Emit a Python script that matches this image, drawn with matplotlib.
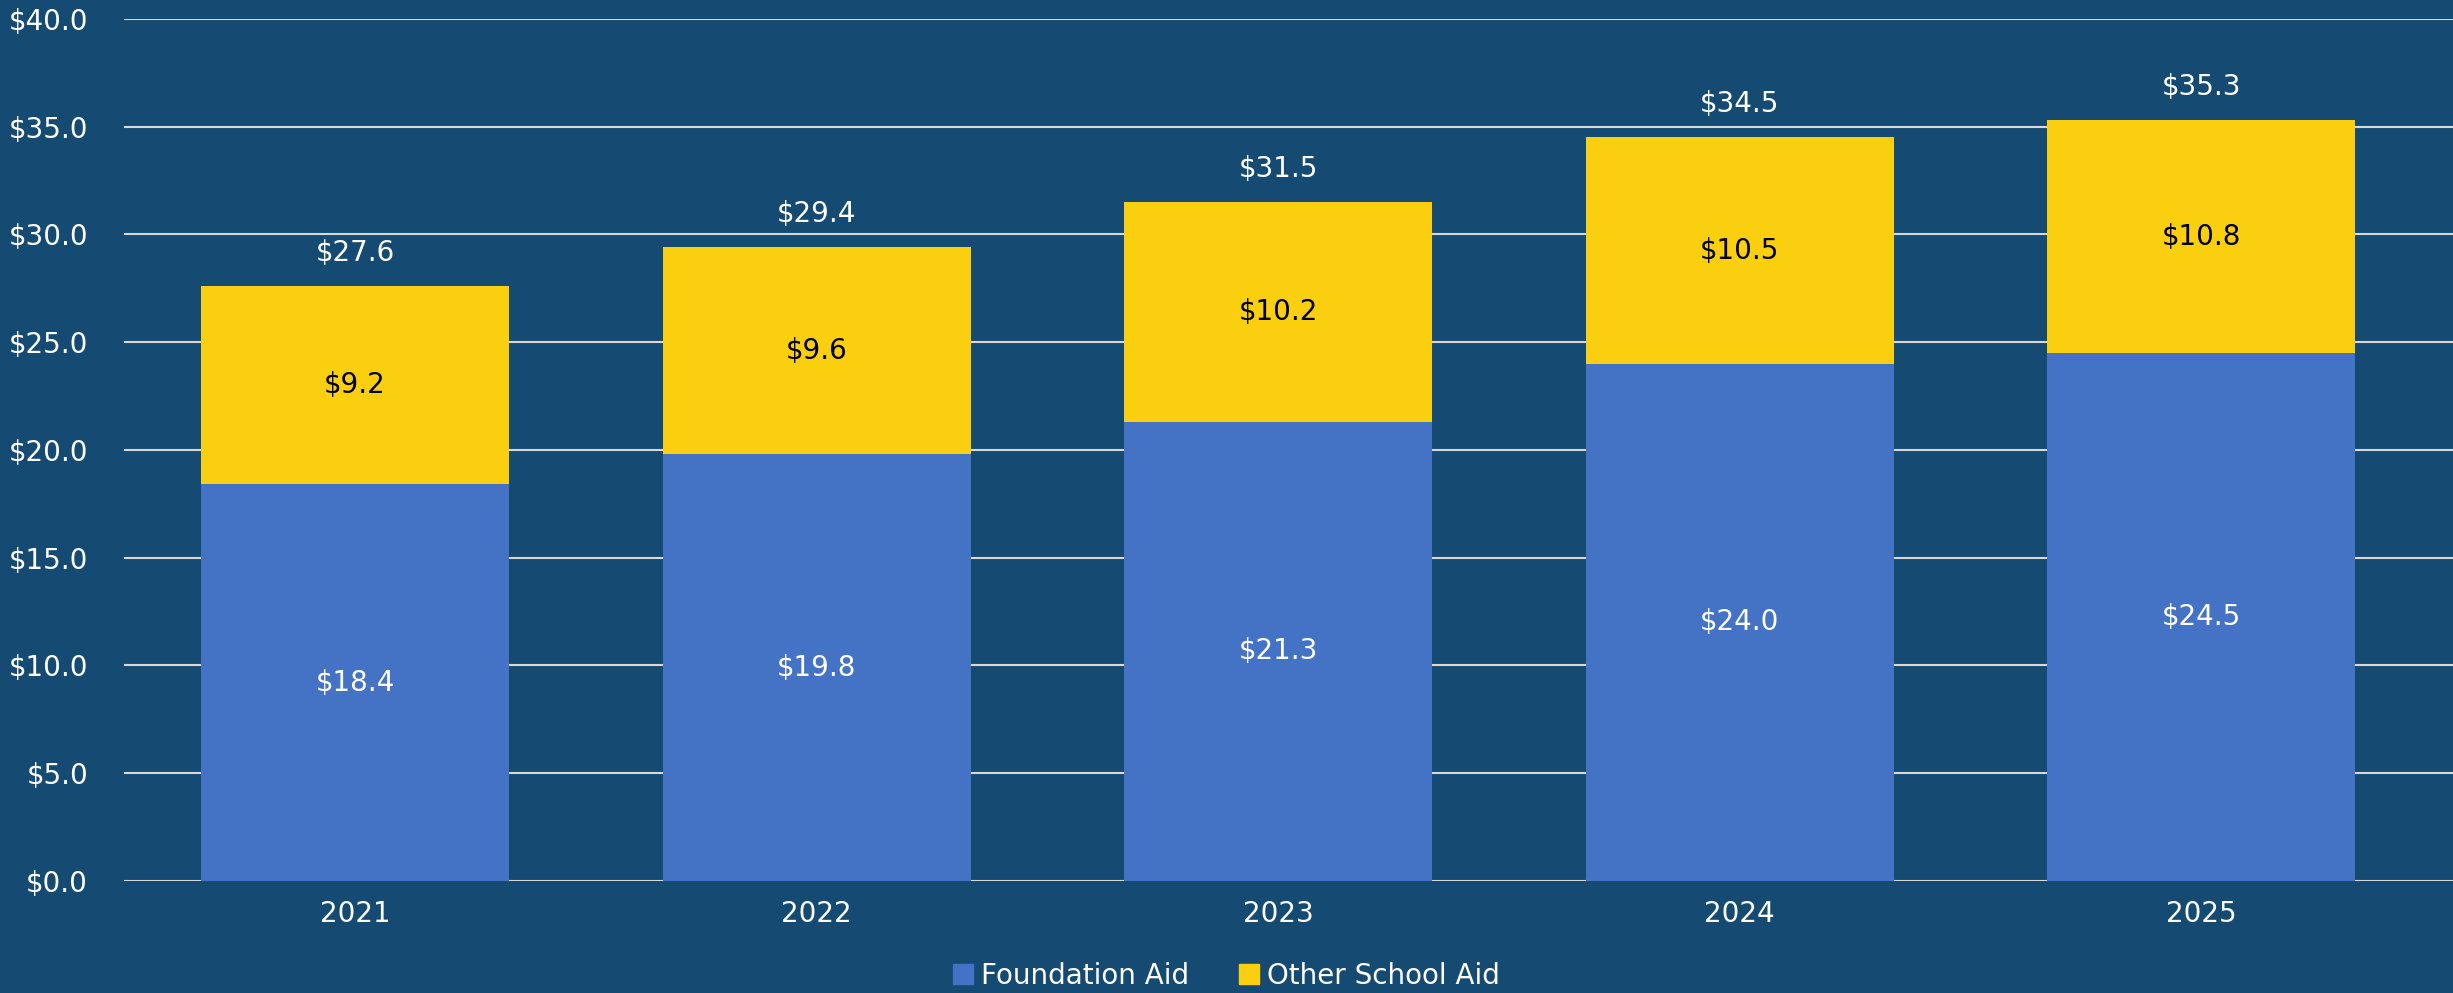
import matplotlib
matplotlib.use('Agg')
import matplotlib.pyplot as plt
import numpy as np
from matplotlib.patches import Patch

years = ['2021', '2022', '2023', '2024', '2025']
foundation = [18.4, 19.8, 21.3, 24.0, 24.5]
other = [9.2, 9.6, 10.2, 10.5, 10.8]
totals = [27.6, 29.4, 31.5, 34.5, 35.3]
yticks = [0, 5, 10, 15, 20, 25, 30, 35, 40]

bg = '#154A72'
blue = '#4472C4'
yellow = '#FACF0F'

plt.rcParams['font.family'] = ['DejaVu Sans']

fig = plt.figure(figsize=(24.53, 9.93), dpi=100, facecolor=bg)
ax = fig.add_axes([0.0506, 0.1128, 0.9494, 0.8681])
ax.set_facecolor(bg)

x = np.arange(len(years))
w = 0.667
ax.bar(x, foundation, w, color=blue, zorder=3)
ax.bar(x, other, w, bottom=foundation, color=yellow, zorder=3)

for i in range(len(years)):
    ax.text(x[i], foundation[i] / 2, '$%.1f' % foundation[i], ha='center', va='center',
            color='white', fontsize=20, zorder=4)
    ax.text(x[i], foundation[i] + other[i] / 2, '$%.1f' % other[i], ha='center', va='center',
            color='black', fontsize=20, zorder=4)
    ax.annotate('$%.1f' % totals[i], (x[i], totals[i]), xytext=(0, 14), textcoords='offset points',
                ha='center', va='bottom', color='white', fontsize=20)

ax.set_xlim(-0.5, 4.545)
ax.set_ylim(0, 40)
ax.set_yticks(yticks)
ax.set_yticklabels(['$%.1f' % v for v in yticks])
ax.set_xticks(x)
ax.set_xticklabels(years)
ax.tick_params(length=0, colors='white', labelsize=20)
ax.tick_params(axis='y', pad=26)
ax.tick_params(axis='x', pad=14)
ax.yaxis.grid(True, color='#D9D9D9', linewidth=1.5, zorder=0)
for s in ax.spines.values():
    s.set_visible(False)

handles = [Patch(color=blue, label='Foundation Aid'), Patch(color=yellow, label='Other School Aid')]
fig.legend(handles=handles, loc='lower center', bbox_to_anchor=(0.5, -0.022), ncol=2, frameon=False,
           fontsize=20, labelcolor='white', handlelength=0.7, handleheight=0.7,
           handletextpad=0.3, columnspacing=1.8)

fig.savefig('out.png', dpi=100, facecolor=bg)
